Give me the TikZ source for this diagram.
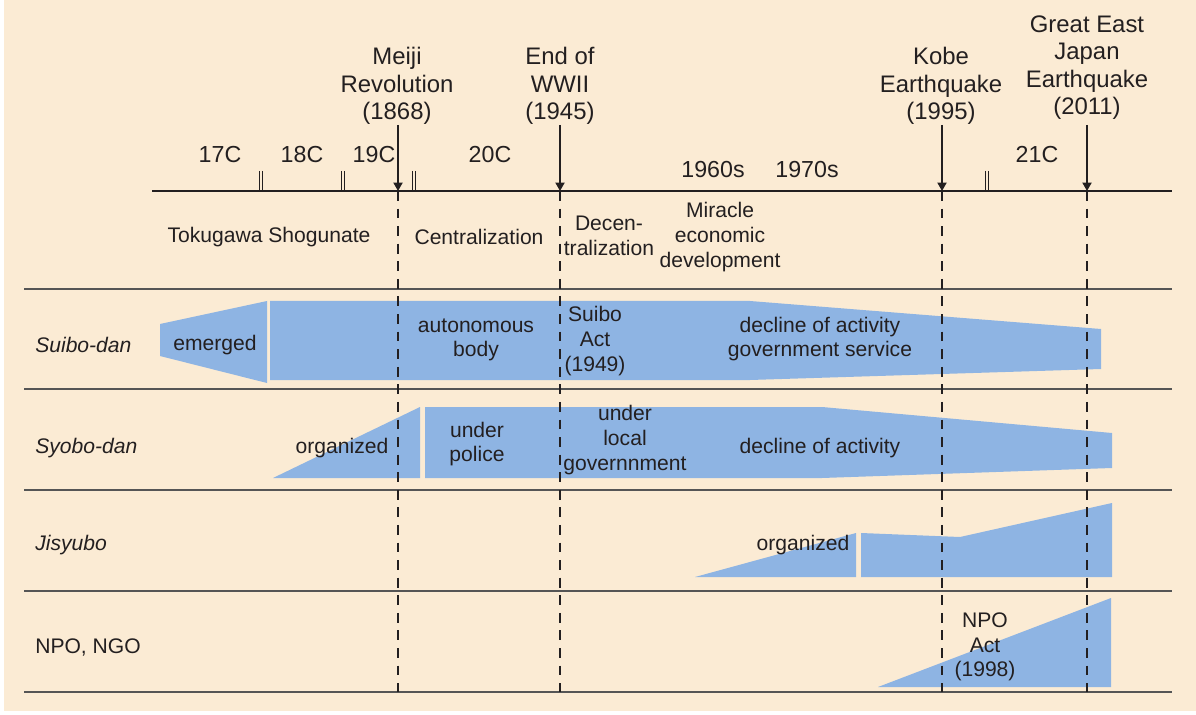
\documentclass[tikz,border=0pt]{standalone}
\usepackage{fontspec}
\setmainfont{Liberation Sans}
\usetikzlibrary{arrows.meta}

\definecolor{paper}{HTML}{FBEBD4}
\definecolor{band}{HTML}{8EB4E3}
\definecolor{ink}{HTML}{231F20}
\definecolor{rule}{HTML}{555555}

\begin{document}
\begin{tikzpicture}[x = 0.025cm, y = -0.025cm]
  \tikzstyle{every node} = [inner sep = 0pt,
			    text = ink,
			    align = center]
  \tikzstyle{EventStyle} = [font = \fontsize{17}{19.5}\selectfont, anchor = south]
  \tikzstyle{AxisLabelStyle} = [font = \fontsize{16.5}{18}\selectfont]
  \tikzstyle{LabelStyle} = [font = \fontsize{15}{17.5}\selectfont]
  \tikzstyle{RowStyle} = [font = \fontsize{15}{17.5}\selectfont\itshape, anchor = west]
  \tikzstyle{BandStyle} = [fill = band]
  \tikzstyle{RowLineStyle} = [draw = rule, line width = 1.9pt]
  \tikzstyle{AxisStyle} = [draw = ink, line width = 2.1pt]
  \tikzstyle{TickStyle} = [draw = ink, line width = 0.9pt]
  \tikzstyle{DashStyle} = [draw = ink, line width = 1.1pt, dash pattern = on 7pt off 5.5pt]
\tikzset{ArrowStyle/.style = {draw = ink, line width = 1.1pt, -{Triangle[width = 6.5pt, length = 6pt]}}}

\fill[white] (0,0) rectangle (1196,715);
\fill[paper] (4,0) rectangle (1196,711);
\useasboundingbox (0,0) rectangle (1196,715);

\foreach \y in {289,389,490,591,692}
  \draw[RowLineStyle] (24,\y) -- (1172,\y);

\draw[AxisStyle] (152,191) -- (1172,191);
\foreach \x in {261,343,414,987} {
  \draw[TickStyle] (\x-1.7,171) -- (\x-1.7,191);
  \draw[TickStyle] (\x+1.7,171) -- (\x+1.7,191);
}

\node[AxisLabelStyle] (c17) at (220,155) {17C};
\node[AxisLabelStyle] (c18) at (302,155) {18C};
\node[AxisLabelStyle] (c19) at (374,155) {19C};
\node[AxisLabelStyle] (c20) at (490,155) {20C};
\node[AxisLabelStyle] (y1960) at (713,170) {1960s};
\node[AxisLabelStyle] (y1970) at (807,170) {1970s};
\node[AxisLabelStyle] (c21) at (1037,155) {21C};

\path[BandStyle] (160,324) -- (267,301) -- (267,383) -- (160,356) -- cycle;
\path[BandStyle] (270,301) -- (750,301) -- (1101,329) -- (1101,369) -- (750,380) -- (270,380) -- cycle;
\path[BandStyle] (273,478) -- (420,407) -- (420,478) -- cycle;
\path[BandStyle] (425,407) -- (822,407) -- (1112,433) -- (1112,468) -- (822,478) -- (425,478) -- cycle;
\path[BandStyle] (695,577) -- (856,533) -- (856,577) -- cycle;
\path[BandStyle] (861,533) -- (960,537) -- (1112,503) -- (1112,577) -- (861,577) -- cycle;
\path[BandStyle] (878,687) -- (1111,598) -- (1111,687) -- cycle;

\node[EventStyle] (meiji) at (397,125) {Meiji\\Revolution\\(1868)};
\node[EventStyle] (wwii) at (560,125) {End of\\WWII\\(1945)};
\node[EventStyle] (kobe) at (941,125) {Kobe\\Earthquake\\(1995)};
\node[EventStyle] (tohoku) at (1087,120) {Great East\\Japan\\Earthquake\\(2011)};

\coordinate (meijiAx) at (398,191);
\coordinate (wwiiAx) at (560,191);
\coordinate (kobeAx) at (942,191);
\coordinate (tohokuAx) at (1087,191);
\coordinate (meijiEnd) at (398,692);
\coordinate (wwiiEnd) at (560,692);
\coordinate (kobeEnd) at (942,692);
\coordinate (tohokuEnd) at (1087,692);

\draw[ArrowStyle] (meiji.south -| meijiAx) -- (meijiAx);
\draw[ArrowStyle] (wwii.south) -- (wwiiAx);
\draw[ArrowStyle] (kobe.south -| kobeAx) -- (kobeAx);
\draw[ArrowStyle] (tohoku.south) ++(0,5) -- (tohokuAx);

\draw[DashStyle] (meijiAx) -- (meijiEnd);
\draw[DashStyle] (wwiiAx) -- (wwiiEnd);
\draw[DashStyle] (kobeAx) -- (kobeEnd);
\draw[DashStyle] (tohokuAx) -- (tohokuEnd);

\node[LabelStyle] (tokugawa) at (269,237) {Tokugawa Shogunate};
\node[LabelStyle] (central) at (479,237) {Centralization};
\node[LabelStyle] (decentral) at (609,236) {Decen-\\tralization};
\node[LabelStyle] (miracle) at (720,237) {Miracle\\economic\\development};

\node[RowStyle] (suibo) at (35,345) {Suibo-dan};
\node[RowStyle] (syobo) at (35,448) {Syobo-dan};
\node[RowStyle] (jisyubo) at (35,545) {Jisyubo};
\node[RowStyle, font = \fontsize{15}{17.5}\selectfont] (npo) at (35,647) {NPO, NGO};

\node[LabelStyle] (emerged) at (215,345) {emerged};
\node[LabelStyle] (autonomous) at (476,340) {autonomous\\body};
\node[LabelStyle] (suiboAct) at (595,341) {Suibo\\Act\\(1949)};
\node[LabelStyle] (decline) at (820,339) {decline of activity\\government service};
\node[LabelStyle] (organizedA) at (342,448) {organized};
\node[LabelStyle] (police) at (477,444) {under\\police};
\node[LabelStyle] (localGov) at (625,440) {under\\local\\governnment};
\node[LabelStyle] (declineB) at (820,448) {decline of activity};
\node[LabelStyle] (organizedB) at (803,545) {organized};
\node[LabelStyle] (npoAct) at (985,647) {NPO\\Act\\(1998)};

\end{tikzpicture}
\end{document}
